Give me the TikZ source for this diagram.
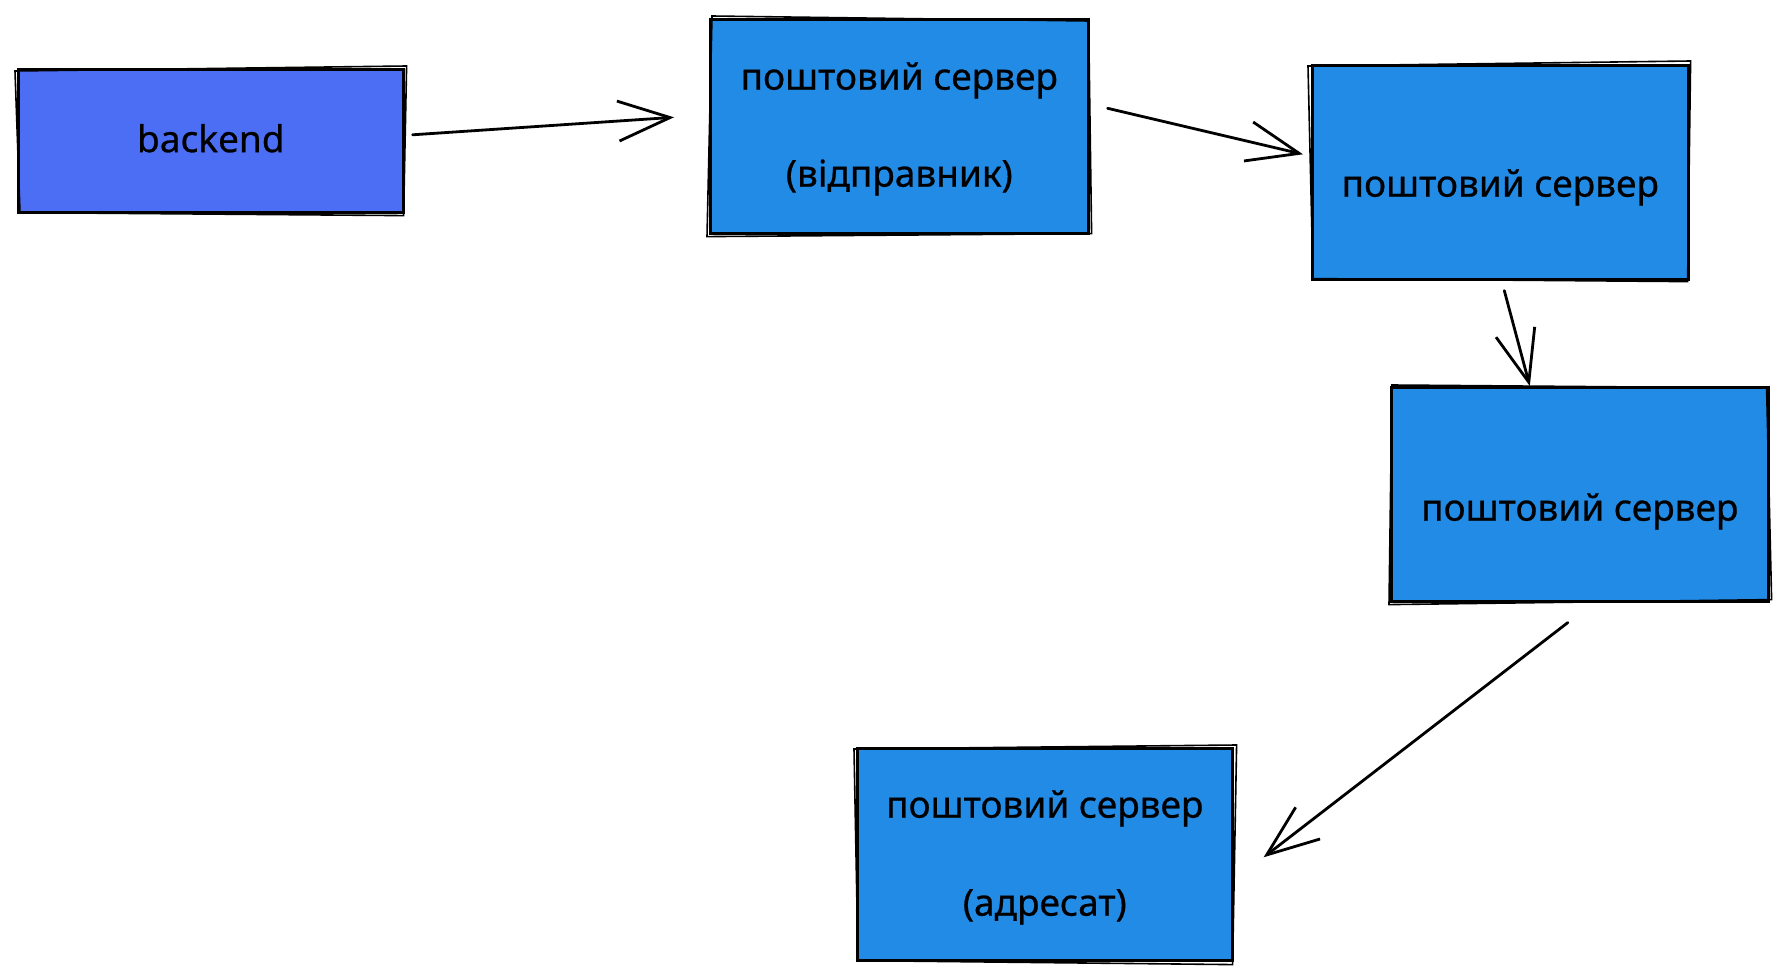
\documentclass[tikz,border=0pt]{standalone}
\usepackage{fontspec}
\setmainfont[FakeBold=0.6]{Noto Sans}
\usetikzlibrary{arrows.meta,calc}
\definecolor{exblue}{HTML}{228BE6}
\definecolor{exindigo}{HTML}{4C6EF5}
\begin{document}
\begin{tikzpicture}[x=0.5pt,y=-0.5pt,
  box/.style={draw=black, line width=1.3pt, fill=exblue, inner sep=0pt, anchor=north west},
  lbl/.style={font=\fontsize{18.5}{22}\selectfont, anchor=mid, inner sep=0pt},
  conn/.style={line width=1.4pt, line cap=round, -{Straight Barb[length=26pt,width=20pt,line width=1.4pt]}},
  sk/.style={line width=0.8pt, line cap=round}]
\useasboundingbox (0,0) rectangle (1785,979);
% boxes
\node[box, fill=exindigo, minimum width=192.5pt, minimum height=71.5pt] (backend) at (17,68) {};
\node[box, minimum width=189pt, minimum height=107pt] (sender) at (709,18) {};
\node[box, minimum width=188pt, minimum height=107pt] (server2) at (1311,64) {};
\node[box, minimum width=188.5pt, minimum height=107pt] (server3) at (1390,386) {};
\node[box, minimum width=187.5pt, minimum height=106pt] (recipient) at (856,747) {};
% sketchy second outlines
\foreach \n/\a/\b/\c/\d in {backend/-2/3/2/-1, sender/3/-2/-1/2, server2/-3/2/1/-2, server3/2/-1/-3/2, recipient/-2/2/3/-1}{
  \draw[sk] ($(\n.north west)+(\a,\b)$) -- ($(\n.north east)+(\c,\a)$) -- ($(\n.south east)+(\d,\c)$) -- ($(\n.south west)+(\b,\d)$) -- cycle;
}
% labels
\node[lbl] (tbackend) at ($(backend.center)+(0,6)$) {backend};
\node[lbl] (tsender1) at ($(sender.center)+(0,-42)$) {поштовий сервер};
\node[lbl] (tsender2) at ($(sender.center)+(0,55)$) {(відправник)};
\node[lbl] (tserver2) at ($(server2.center)+(0,19)$) {поштовий сервер};
\node[lbl] (tserver3) at ($(server3.center)+(0,21)$) {поштовий сервер};
\node[lbl] (trec1) at ($(recipient.center)+(0,-42)$) {поштовий сервер};
\node[lbl] (trec2) at ($(recipient.center)+(0,56)$) {(адресат)};
% connectors
\draw[conn] ($(backend.east)+(8,-6)$) -- ($(sender.west)+(-35,-9)$);
\draw[conn] ($(sender.east)+(18,-18)$) -- ($(server2.west)+(-8,-18)$);
\draw[conn] ($(server2.south)+(4,10)$) -- ($(server3.north)+(-50,0)$);
\draw[conn] ($(server3.south)+(-12,20)$) -- ($(recipient.east)+(30,3)$);
\end{tikzpicture}
\end{document}
